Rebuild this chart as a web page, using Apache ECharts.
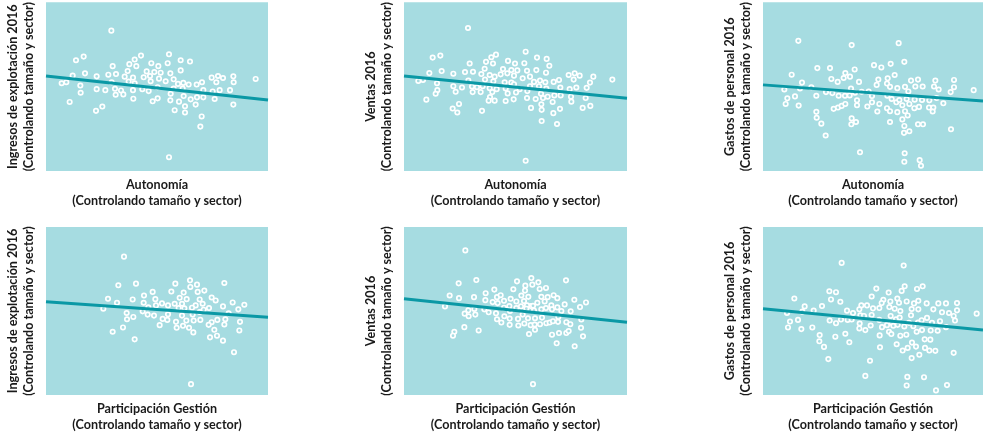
<!DOCTYPE html>
<html>
<head>
<meta charset="utf-8">
<script src="https://cdn.jsdelivr.net/npm/echarts@6/dist/echarts.min.js"></script>
<style>
  html, body { margin: 0; padding: 0; background: #fff; }
  #chart { width: 983px; height: 434px; }
</style>
</head>
<body>
<div id="chart"></div>
<script>
// Residuals (arbitrary units), one array per panel
const yTitles = [
  'Ingresos de explotación 2016\n(Controlando tamaño y sector)',
  'Ventas 2016\n(Controlando tamaño y sector)',
  'Gastos de personal 2016\n(Controlando tamaño y sector)'
]
const xTitles = [
  'Autonomía\n(Controlando tamaño y sector)',
  'Participación Gestión\n(Controlando tamaño y sector)'
]

const ingresosAutonomia = [
  [196,427],[90,337],[113,348],[285,351],[369,355],[266,339],[404,337],[432,333],
  [250,325],[316,328],[337,319],[365,328],[271,319],[200,319],[404,306],
  [245,304],[302,303],[325,301],[344,299],[373,297],[117,297],[80,290],[152,288],[187,293],[210,295],
  [236,287],[261,284],[293,285],[312,289],[339,281],[383,279],[359,273],
  [497,284],[516,289],[531,283],[562,288],[511,270],[563,270],[629,280],
  [47,267],[61,270],[103,260],[197,270],[248,272],[266,267],[314,273],
  [396,265],[412,268],[428,263],[452,263],[468,270],[335,255],[383,251],[410,251],
  [152,249],[178,246],[207,250],[225,245],[261,246],[289,249],[308,243],
  [374,235],[472,246],[500,242],[521,246],[552,246],[104,238],[209,232],[232,233],
  [413,228],[434,218],[453,224],[472,224],[506,219],[262,220],[335,221],[320,212],[373,215],[399,211],
  [71,210],[449,202],[417,197],[562,202],[150,183],[169,196],[386,185],[417,178],
  [467,166],[463,135],[369,42]
]
const ventasAutonomia = [
  [192,435],[86,345],[109,351],[262,346],[276,354],[365,363],[399,345],[428,341],
  [246,332],[267,327],[312,335],[333,327],[361,328],[197,327],[436,320],
  [242,311],[297,310],[322,307],[340,306],[369,305],[397,307],
  [76,298],[113,304],[148,296],[183,301],[207,302],
  [232,295],[257,292],[272,287],[290,294],[310,297],[330,290],[356,282],[378,287],[426,299],
  [494,292],[512,297],[527,290],[568,287],[509,278],[625,278],[43,274],[57,277],[99,267],
  [193,275],[243,278],[268,273],[302,270],[322,269],
  [390,271],[408,275],[424,270],[449,271],[465,277],[558,269],[548,253],
  [148,258],[174,254],[204,257],[219,255],[236,258],
  [257,252],[278,249],[305,251],[330,264],[347,249],
  [378,258],[405,258],[427,251],[469,254],[497,249],[517,254],[100,246],[95,235],
  [155,241],[206,240],[230,240],[265,240],[311,236],[336,239],[370,243],
  [411,235],[431,226],[451,230],[470,230],[258,225],[254,214],[272,214],[305,213],[329,218],
  [369,222],[395,219],[417,222],[446,210],[501,226],[502,211],[545,222],[67,217],
  [165,204],[146,190],[160,178],[234,183],
  [381,192],[412,203],[413,186],[448,176],[468,189],[536,192],[559,198],
  [413,152],[459,143],[365,31]
]
const gastosAutonomia = [
  [106,396],[266,383],[407,389],[424,332],[333,322],[355,315],[383,326],[163,313],[201,313],
  [86,293],[247,298],[242,283],[261,287],[275,309],[205,280],[224,271],[395,292],
  [117,269],[145,255],[111,251],
  [288,271],[346,278],[341,262],[374,282],[372,266],[381,256],[403,252],
  [426,256],[444,275],[465,278],[457,257],[479,257],
  [517,275],[573,277],[513,257],[527,248],[573,255],[563,240],[632,246],
  [64,248],[73,221],[96,227],[68,204],[107,199],[160,229],
  [189,240],[208,237],[227,229],[246,229],[260,230],[264,251],[276,238],[296,241],
  [317,242],[327,228],[327,209],[349,204],[313,196],
  [373,229],[386,219],[400,209],[409,216],[418,200],[431,219],[439,204],[436,242],
  [455,217],[477,216],[499,215],[521,222],[541,206],
  [212,189],[225,193],[236,198],[247,204],[282,215],[282,200],
  [160,180],[161,162],[175,144],
  [343,181],[372,191],[381,182],[403,179],[426,182],[434,169],[454,191],[468,195],
  [498,193],[511,193],[509,181],
  [266,160],[279,149],[265,142],[381,149],[418,157],[424,137],[423,116],[439,121],
  [465,142],[480,142],[564,127],[188,108],
  [291,57],[425,54],[424,28],[470,33],[474,16]
]
const ingresosGestion = [
  [234,420],[217,333],[270,338],[388,338],[432,348],[433,328],[453,335],[475,317],[535,340],
  [320,313],[376,314],[413,311],[455,313],
  [186,292],[213,280],[260,290],[294,302],[293,280],[328,291],[348,278],[366,272],[386,277],
  [401,295],[422,291],[408,277],[461,290],[470,277],[449,272],[497,296],[509,287],
  [560,281],[595,274],[531,269],[577,260],[172,262],[242,249],[262,237],[243,230],
  [290,254],[305,244],[307,266],[324,241],[330,272],
  [350,231],[366,245],[364,228],[398,264],[415,263],[438,265],[461,252],[473,259],
  [408,241],[390,222],[421,226],[443,226],[463,228],[440,244],
  [489,264],[497,221],[488,213],[514,228],[538,230],[548,248],
  [341,212],[392,204],[411,210],[429,204],[442,190],
  [505,198],[535,214],[582,222],[580,196],[200,192],[231,205],[266,169],
  [492,175],[513,180],[531,165],[564,130],[435,33]
]
const ventasGestion = [
  [184,439],[164,339],[217,349],[339,345],[382,355],[403,342],[385,335],[364,332],[486,348],
  [271,320],[328,321],[363,317],[407,322],[426,325],
  [137,302],[165,294],[210,297],[245,309],[244,288],[279,297],[290,303],[300,286],
  [320,292],[337,284],[352,302],[373,298],[360,285],[381,270],
  [412,298],[431,297],[449,303],[460,294],[422,284],[400,280],[442,272],[460,266],
  [511,289],[546,281],[528,267],[482,275],[123,269],
  [193,257],[211,261],[182,247],[194,239],[214,244],[241,260],
  [254,251],[276,248],[266,282],[281,279],[300,265],[318,255],[316,270],
  [337,264],[351,269],[369,272],[367,262],[387,271],[356,244],[390,256],[412,260],
  [426,264],[444,260],[463,237],[472,255],[500,254],
  [279,230],[292,220],[301,239],[317,232],[317,213],[342,231],[343,211],
  [361,217],[372,233],[380,212],[393,233],[392,214],[408,215],[414,235],[427,218],
  [437,220],[447,224],[462,222],[487,221],[499,215],[532,229],
  [181,206],[224,196],[151,192],[147,180],
  [375,185],[393,198],[444,183],[465,188],[487,188],[494,194],[531,204],[537,178],
  [458,157],[512,148],[387,33]
]
const gastosGestion = [
  [236,401],[422,393],[199,315],[219,312],[340,323],[377,311],[416,316],[425,330],[462,322],[479,330],
  [94,293],[125,269],[177,270],[204,290],[232,283],[326,299],
  [361,289],[382,284],[403,293],[431,284],[466,286],[453,278],
  [295,272],[312,272],[330,263],[349,264],[356,279],[379,267],[395,262],[408,280],
  [446,261],[466,260],[491,278],[526,278],[549,278],[582,279],[511,260],[537,251],
  [558,249],[582,257],[572,240],[576,226],[641,247],
  [72,249],[118,253],[152,256],[81,223],[75,205],[105,228],[115,200],[148,205],
  [200,226],[219,218],[234,229],[252,256],[254,228],[270,249],[266,229],
  [289,260],[292,242],[290,217],[303,240],[289,202],[307,197],[323,211],[326,243],
  [349,228],[357,206],[372,212],[383,240],[386,219],[391,210],[399,230],[404,213],[410,235],[412,255],
  [424,208],[438,219],[444,242],[451,209],[465,220],[476,227],[492,234],
  [507,219],[531,224],[549,206],[461,192],[477,197],[503,196],[524,195],
  [247,186],[217,177],[170,182],[169,163],[183,146],[259,160],
  [350,181],[378,192],[385,185],[412,180],[430,183],[485,169],[502,168],
  [351,145],[401,154],[419,135],[434,143],[447,159],[459,147],
  [486,143],[499,135],[517,134],[469,122],[446,112],[572,128],
  [196,109],[321,104],[307,58],[433,55],[483,54],[431,29],[552,30],[519,14]
]

// Fitted regression lines (end points)
const fitLines = [
  [[0,289],[666,216]],
  [[0,289],[669,221]],
  [[0,262],[660,213]],
  [[0,283],[666,236]],
  [[0,292],[669,221]],
  [[0,262],[660,197]]
]
const panelData = [ingresosAutonomia, ventasAutonomia, gastosAutonomia, ingresosGestion, ventasGestion, gastosGestion]
const xMax = [666, 669, 660, 666, 669, 660]
const yMax = [513, 513, 513, 510, 510, 510]

const BG = '#a6dce1'
const LINE = '#0a98a5'
const FONT = 'Lato'

const boxes = [
  { left: 46, top: 0, width: 222, height: 171 },
  { left: 404, top: 0, width: 223, height: 171 },
  { left: 763, top: 0, width: 220, height: 171 },
  { left: 46, top: 227, width: 222, height: 170 },
  { left: 404, top: 227, width: 223, height: 170 },
  { left: 763, top: 227, width: 220, height: 170 }
]

const titleStyle = {
  fontFamily: FONT,
  fontSize: 12.6,
  fontWeight: 'bold',
  color: '#1a1a1a',
  lineHeight: 16
}

const chart = echarts.init(document.getElementById('chart'), null, { renderer: 'canvas' })

const grid = boxes.map((b) => ({
  ...b,
  show: true,
  backgroundColor: BG,
  borderWidth: 0,
  containLabel: false
}))

const hidden = {
  axisLine: { show: false },
  axisTick: { show: false },
  axisLabel: { show: false },
  splitLine: { show: false }
}

const xAxis = boxes.map((b, i) => ({
  type: 'value',
  gridIndex: i,
  min: 0,
  max: xMax[i],
  name: xTitles[Math.floor(i / 3)],
  nameLocation: 'middle',
  nameGap: 6,
  nameTextStyle: { ...titleStyle, verticalAlign: 'top' },
  ...hidden
}))

const yAxis = boxes.map((b, i) => ({
  type: 'value',
  gridIndex: i,
  min: 0,
  max: yMax[i],
  name: yTitles[i % 3],
  nameLocation: 'middle',
  nameGap: 9,
  nameTextStyle: titleStyle,
  ...hidden
}))

const series = []
panelData.forEach((pts, i) => {
  series.push({
    type: 'scatter',
    xAxisIndex: i,
    yAxisIndex: i,
    data: pts,
    symbol: 'circle',
    symbolSize: 4.4,
    silent: true,
    itemStyle: { color: BG, borderColor: '#ffffff', borderWidth: 1.7, opacity: 1 }
  })
  series.push({
    type: 'line',
    xAxisIndex: i,
    yAxisIndex: i,
    data: fitLines[i],
    showSymbol: false,
    symbol: 'none',
    silent: true,
    z: 3,
    lineStyle: { color: LINE, width: 3 }
  })
})

chart.setOption({
  animation: false,
  grid,
  xAxis,
  yAxis,
  series
})
</script>
</body>
</html>
